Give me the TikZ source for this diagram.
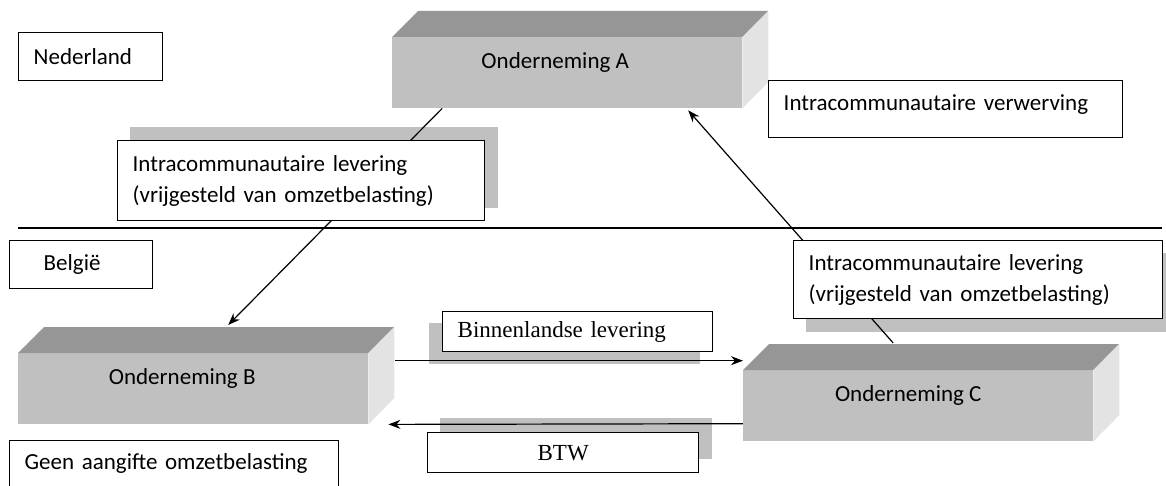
\documentclass[tikz,border=0pt]{standalone}
\usepackage{fontspec}
\setmainfont{Carlito}
\newfontfamily\timesfont{Liberation Serif}
\usetikzlibrary{arrows.meta}
\definecolor{frontgray}{HTML}{C0C0C0}
\definecolor{topgray}{HTML}{969696}
\definecolor{sidegray}{HTML}{E3E3E3}
\definecolor{shadowgray}{HTML}{C0C0C0}
\pgfdeclarelayer{shade}
\pgfdeclarelayer{links}
\pgfsetlayers{shade,links,main}

\begin{document}
\begin{tikzpicture}[color=black, >={Stealth[length=12pt, width=9pt]}, x=1pt, y=-1pt,
    font=\fontsize{23}{31}\selectfont,
    firm/.style={fill=frontgray, minimum width=350pt, minimum height=71pt,
      anchor=north west, inner sep=0pt},
    note/.style={draw, line width=1.4pt, fill=white, anchor=north west,
      align=left, inner xsep=15pt, inner ysep=0pt},
    link/.style={->, line width=1.2pt}]
  \useasboundingbox (0,0) rectangle (1166,486);
  % Border between the two countries
  \draw[line width=1.4pt] (18,228) -- (1162,228);
  % Companies as blocks
  \node[firm, label={[xshift=-12pt, yshift=10pt]center:Onderneming A}] (A) at (392,37) {};
  \node[firm, label={[xshift=-11pt, yshift=10pt]center:Onderneming B}] (B) at (18,353) {};
  \node[firm, label={[xshift=-10pt, yshift=10pt]center:Onderneming C}] (C) at (743,370) {};
  \foreach \f in {A,B,C} {
    \fill[topgray] (\f.north west) -- ++(26,-26) -- ++(350,0) -- (\f.north east) -- cycle;
    \fill[sidegray] (\f.north east) -- ++(26,-26) -- ++(0,71) -- (\f.south east) -- cycle;
  }
  % Text boxes
  \node[note, text width=114pt, minimum height=48pt] (nl) at (18,32) {Nederland};
  \node[note, text width=75pt, inner xsep=34pt, minimum height=48pt] (be) at (9,240) {België};
  \node[note, text width=337pt, minimum height=80pt] (levAB) at (117,140)
    {Intracommunautaire levering\\(vrijgesteld van omzetbelasting)};
  \node[note, text width=339pt, minimum height=78pt] (levCA) at (793,240)
    {Intracommunautaire levering\\(vrijgesteld van omzetbelasting)};
  \node[note, text width=324pt, text height=30pt, text depth=27pt] (verw) at (768,80)
    {Intracommunautaire verwerving};
  \node[note, text width=240pt, minimum height=40pt, font=\fontsize{23}{31}\timesfont] (binnen) at (442,311)
    {Binnenlandse levering};
  \node[note, text width=241pt, minimum height=40pt, align=center, font=\fontsize{23}{31}\timesfont] (btw) at (427,432)
    {BTW};
  \node[note, text width=299pt, text height=29pt, text depth=31pt] (geen) at (9,440)
    {Geen aangifte omzetbelasting};
  % Shadows behind the boxes
  \begin{pgfonlayer}{shade}
    \foreach \n/\dx/\dy in {levAB/13/-13, levCA/13/13, binnen/-13/12, btw/13/-14}
      \fill[shadowgray] ([shift={(\dx,\dy)}]\n.north west) rectangle ([shift={(\dx,\dy)}]\n.south east);
  \end{pgfonlayer}
  % Flows
  \begin{pgfonlayer}{links}
    \draw[link] ([xshift=-125pt]A.south) -- ([xshift=35pt, yshift=28pt]B.north);
    \draw[link] ([xshift=-25pt, yshift=27pt]C.north) -- ([xshift=121pt, yshift=-2pt]A.south);
    \draw[link] ([xshift=27pt, yshift=28pt]B.east) -- ([yshift=45pt]C.west);
    \draw[link] ([yshift=-18pt]C.west) -- ([xshift=20pt]B.south east);
  \end{pgfonlayer}
\end{tikzpicture}
\end{document}
